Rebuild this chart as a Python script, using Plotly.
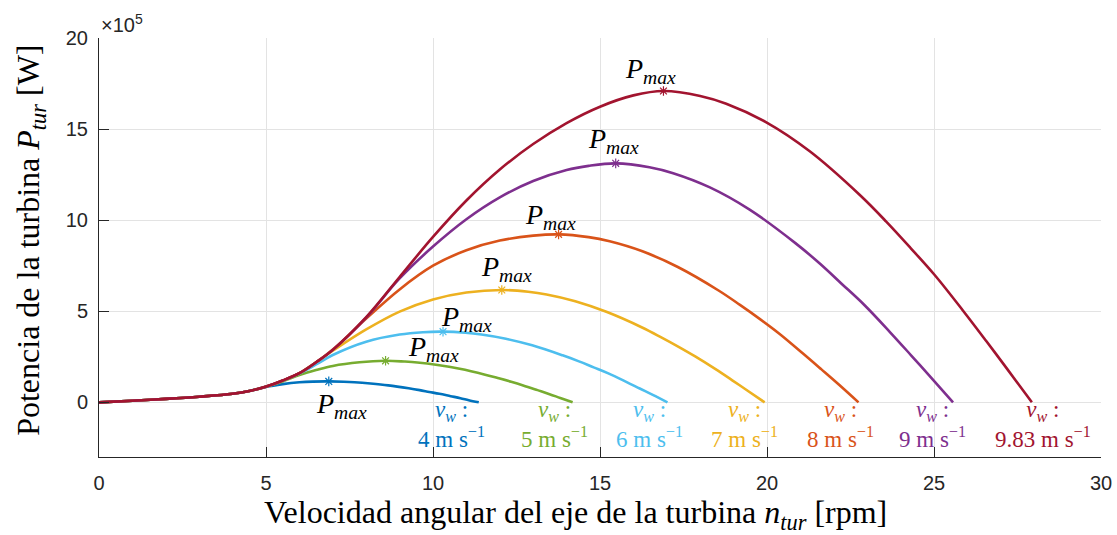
import plotly.graph_objects as go

# ---------------- data (power in units of 1e5 W) ----------------
speeds = ["4", "5", "6", "7", "8", "9", "9.83"]
colors = ["#0072BD", "#77AC30", "#4DBEEE", "#EDB120", "#D95319", "#7E2F8E", "#A2142F"]

n_4 = [0, 1, 2, 3, 4, 4.5, 5, 5.5, 6, 6.4, 6.88, 7.33, 7.65, 8.13, 8.66, 9.27, 9.6, 9.89, 10.19, 10.53, 10.82, 11.07, 11.37]
p_4 = [0, 0.09, 0.19, 0.31, 0.47, 0.62, 0.85, 1.0, 1.1, 1.14, 1.15, 1.13, 1.1, 1.03, 0.93, 0.77, 0.67, 0.57, 0.47, 0.34, 0.23, 0.12, 0]

n_5 = [0, 1, 2, 3, 4, 4.5, 5, 5.5, 6, 6.5, 7, 7.8, 8.58, 9.14, 9.53, 10.14, 10.8, 11.56, 11.97, 12.34, 12.7, 13.13, 13.49, 13.81, 14.18]
p_5 = [0, 0.09, 0.19, 0.31, 0.47, 0.62, 0.86, 1.15, 1.5, 1.77, 2.0, 2.2, 2.28, 2.24, 2.19, 2.05, 1.84, 1.52, 1.32, 1.13, 0.93, 0.67, 0.45, 0.24, 0]

n_6 = [0, 1, 2, 3, 4, 4.5, 5, 5.5, 6, 6.5, 7, 8, 9, 9.7, 10.3, 10.97, 11.45, 12.18, 12.97, 13.88, 14.37, 14.81, 15.25, 15.77, 16.19, 16.58, 17.02]
p_6 = [0, 0.09, 0.19, 0.31, 0.47, 0.62, 0.86, 1.18, 1.58, 2.08, 2.6, 3.33, 3.72, 3.85, 3.88, 3.82, 3.72, 3.49, 3.13, 2.58, 2.25, 1.92, 1.59, 1.14, 0.76, 0.41, 0]

n_7 = [0, 1, 2, 3, 4, 4.5, 5, 5.5, 6, 6.5, 7, 8, 9, 10, 11, 12.06, 12.85, 13.4, 14.26, 15.19, 16.26, 16.82, 17.34, 17.85, 18.46, 18.96, 19.41, 19.93]
p_7 = [0, 0.09, 0.19, 0.31, 0.47, 0.62, 0.86, 1.19, 1.6, 2.2, 2.83, 4.0, 4.98, 5.65, 6.03, 6.17, 6.07, 5.92, 5.55, 4.97, 4.11, 3.58, 3.06, 2.52, 1.82, 1.21, 0.65, 0]

n_8 = [0, 1, 2, 3, 4, 4.5, 5, 5.5, 6, 6.5, 7, 8, 9, 10, 11, 12, 13, 13.76, 14.66, 15.29, 16.27, 17.33, 18.55, 19.19, 19.79, 20.37, 21.06, 21.63, 22.15, 22.74]
p_8 = [0, 0.09, 0.19, 0.31, 0.47, 0.62, 0.86, 1.2, 1.6, 2.2, 2.9, 4.6, 6.2, 7.5, 8.35, 8.88, 9.15, 9.22, 9.07, 8.84, 8.29, 7.43, 6.14, 5.35, 4.57, 3.77, 2.71, 1.81, 0.98, 0]

n_9 = [0, 1, 2, 3, 4, 4.5, 5, 5.5, 6, 6.5, 7, 8, 9, 10, 11, 12, 13, 14, 14.66, 15.47, 16.48, 17.19, 18.29, 19.48, 20.85, 21.58, 22.24, 22.9, 23.68, 24.32, 24.9, 25.57]
p_9 = [0, 0.09, 0.19, 0.31, 0.47, 0.62, 0.86, 1.2, 1.6, 2.2, 2.88, 4.65, 6.8, 8.55, 10.05, 11.25, 12.15, 12.75, 12.98, 13.12, 12.91, 12.58, 11.8, 10.58, 8.74, 7.62, 6.5, 5.37, 3.86, 2.57, 1.39, 0]

n_983 = [0, 1, 2, 3, 4, 4.5, 5, 5.5, 6, 6.5, 7, 8, 9, 10, 11, 12, 13, 14, 15, 16, 16.9, 18, 18.78, 19.98, 21.28, 22.78, 23.57, 24.3, 25.02, 25.87, 26.57, 27.2, 27.93]
p_983 = [0, 0.09, 0.19, 0.31, 0.47, 0.62, 0.87, 1.2, 1.6, 2.2, 2.88, 4.68, 6.88, 9.08, 11.08, 12.78, 14.18, 15.33, 16.23, 16.85, 17.09, 16.82, 16.39, 15.37, 13.78, 11.38, 9.92, 8.47, 6.99, 5.03, 3.35, 1.81, 0]

curves_n = [n_4, n_5, n_6, n_7, n_8, n_9, n_983]
curves_p = [p_4, p_5, p_6, p_7, p_8, p_9, p_983]

# text label positions (data units)
pmax_label_x = [7.25, 10.02, 11.01, 12.21, 13.52, 15.41, 16.52]
pmax_label_y = [-0.15, 2.95, 4.6, 7.35, 10.2, 14.35, 18.2]
vw_label_x = [10.56, 13.64, 16.49, 19.33, 22.2, 24.96, 28.25]

x_ticks = [0, 5, 10, 15, 20, 25, 30]
y_ticks = [0, 5, 10, 15, 20]

SERIF = "Liberation Serif"
SANS = "Liberation Sans"

fig = go.Figure()

for n, p, c in zip(curves_n, curves_p, colors):
    fig.add_trace(go.Scatter(x=n, y=p, mode="lines",
                             line=dict(color=c, width=2.6, shape="spline", smoothing=1.0),
                             showlegend=False, hoverinfo="skip"))

for n, p, c in zip(curves_n, curves_p, colors):
    i = p.index(max(p))
    fig.add_trace(go.Scatter(x=[n[i]], y=[p[i]], mode="markers",
                             marker=dict(symbol="asterisk-open", size=8, color=c,
                                         line=dict(color=c, width=1.2)),
                             showlegend=False, hoverinfo="skip"))

ann = []
pmax_txt = "<i>P</i><sub><i>max</i></sub>"
for lx, ly in zip(pmax_label_x, pmax_label_y):
    ann.append(dict(x=lx, y=ly, xref="x", yref="y", text=pmax_txt, showarrow=False,
                    xanchor="center", yanchor="middle",
                    font=dict(family=SERIF, size=28, color="black")))

for lx, s, c in zip(vw_label_x, speeds, colors):
    ann.append(dict(x=lx, y=-1.22, xref="x", yref="y",
                    text="<i>v</i><sub><i>w</i></sub> :<br>" + s + " m s<sup>\u22121</sup>",
                    showarrow=False, align="center",
                    xanchor="center", yanchor="middle",
                    font=dict(family=SERIF, size=23, color=c)))

# axis titles
ann.append(dict(x=0.476, y=-0.138, xref="paper", yref="paper",
                text="Velocidad angular del eje de la turbina <i>n</i><sub><i>tur</i></sub> [rpm]",
                showarrow=False, xanchor="center", yanchor="middle",
                font=dict(family=SERIF, size=32, color="black")))
ann.append(dict(x=-0.068, y=0.518, xref="paper", yref="paper",
                text="Potencia de la turbina <i>P</i><sub><i>tur</i></sub> [W]",
                showarrow=False, xanchor="center", yanchor="middle", textangle=-90,
                font=dict(family=SERIF, size=32, color="black")))
# exponent
ann.append(dict(x=0.0, y=1.0, xref="paper", yref="paper",
                text="\u00d710<sup>5</sup>", showarrow=False,
                xanchor="left", yanchor="bottom",
                font=dict(family=SANS, size=20, color="#262626")))

axis_common = dict(showgrid=True, gridcolor="#E3E3E3", gridwidth=1,
                   showline=True, linecolor="#262626", linewidth=1,
                   ticks="inside", ticklen=10, tickcolor="#262626",
                   tickfont=dict(family=SANS, size=20, color="#262626"),
                   zeroline=False, mirror=False, automargin=False)

fig.update_layout(
    width=1117, height=535, autosize=False,
    margin=dict(l=99, r=16, t=38, b=78, autoexpand=False),
    paper_bgcolor="white", plot_bgcolor="white",
    annotations=ann,
    xaxis=dict(range=[0, 30], tickvals=x_ticks, ticklabelstandoff=8, **axis_common),
    yaxis=dict(range=[-3, 20], tickvals=y_ticks, ticklabelstandoff=6, **axis_common),
)

fig.write_html("out.html", config={"responsive": False})
